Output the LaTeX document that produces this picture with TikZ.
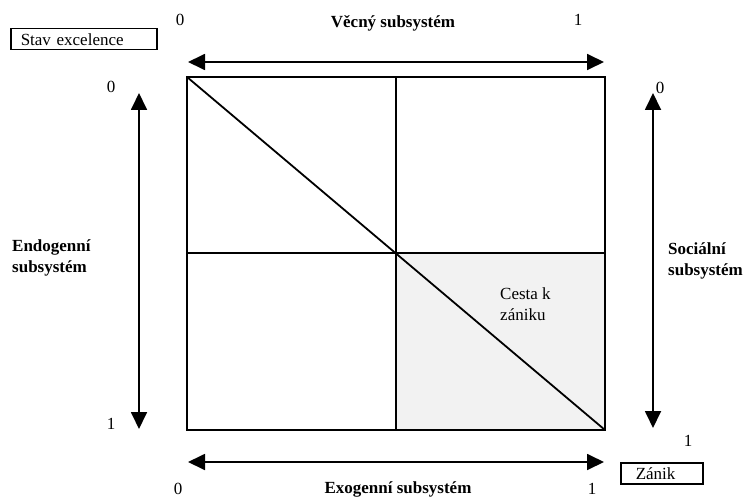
\documentclass[tikz,border=0pt]{standalone}
\usepackage{fontspec}
\setmainfont{Liberation Serif}
\usepackage{tikz}
\usetikzlibrary{positioning,arrows.meta}

\begin{document}
\begin{tikzpicture}[x=1pt,y=-1pt,
			every node/.style = {font=\fontsize{17}{21}\selectfont},
			title/.style = {font=\fontsize{17}{21}\selectfont\bfseries, align=left, inner sep=0pt},
			tag/.style = {draw, line width=1.5pt, minimum height=21pt, inner ysep=0pt, align=left, anchor=north west},
			axis/.style = {line width=1.8pt, {Triangle[length=17pt,width=16pt]}-{Triangle[length=17pt,width=16pt]}}]
			\useasboundingbox (0,0) rectangle (746,497);
			% quadrant leading to decline
			\fill[black!5] (396,253) rectangle (605,430);
			\draw[line width=2.2pt] (187,77) rectangle (605,430);
			\draw[line width=1.8pt] (396,77) -- (396,430);
			\draw[line width=1.8pt] (187,253) -- (605,253);
			\draw[line width=1.8pt] (187,77) -- (605,430);
			% arrow ends
			\coordinate (topL) at (188,62);
			\coordinate (topR) at (604,62);
			\coordinate (botL) at (188,462);
			\coordinate (botR) at (604,462);
			\coordinate (leftT) at (139,93);
			\coordinate (leftB) at (139,429);
			\coordinate (rightT) at (653,93);
			\coordinate (rightB) at (653,428);
			\draw[axis] (topL) -- (topR);
			\draw[axis] (botL) -- (botR);
			\draw[axis] (leftT) -- (leftB);
			\draw[axis] (rightT) -- (rightB);
			% texts
			\node (vecny) [title] at (393,23) {Věcný subsystém};
			\node (exo) [title] at (398,489) {Exogenní subsystém};
			\node (endo) [title, anchor=west] at (12,258) {Endogenní\\subsystém};
			\node (soc) [title, anchor=west] at (668,261) {Sociální\\subsystém};
			\node (cesta) [align=left, inner sep=0pt, anchor=west] at (500,304) {Cesta k\\zániku};
			\node (stav) [tag, inner xsep=10pt, text width=126pt] at (10,28) {Stav excelence};
			\node (zanik) [tag, inner xsep=15pt, text width=52pt] at (620,462) {Zánik};
			% scale marks
			\node (t0) at (180,20) {0};
			\node (t1) at (578,20) {1};
			\node (l0) at (111,87) {0};
			\node (l1) at (111,424) {1};
			\node (r0) at (660,88) {0};
			\node (r1) at (688,441) {1};
			\node (b0) at (178,489) {0};
			\node (b1) at (592,489) {1};
\end{tikzpicture}
\end{document}
